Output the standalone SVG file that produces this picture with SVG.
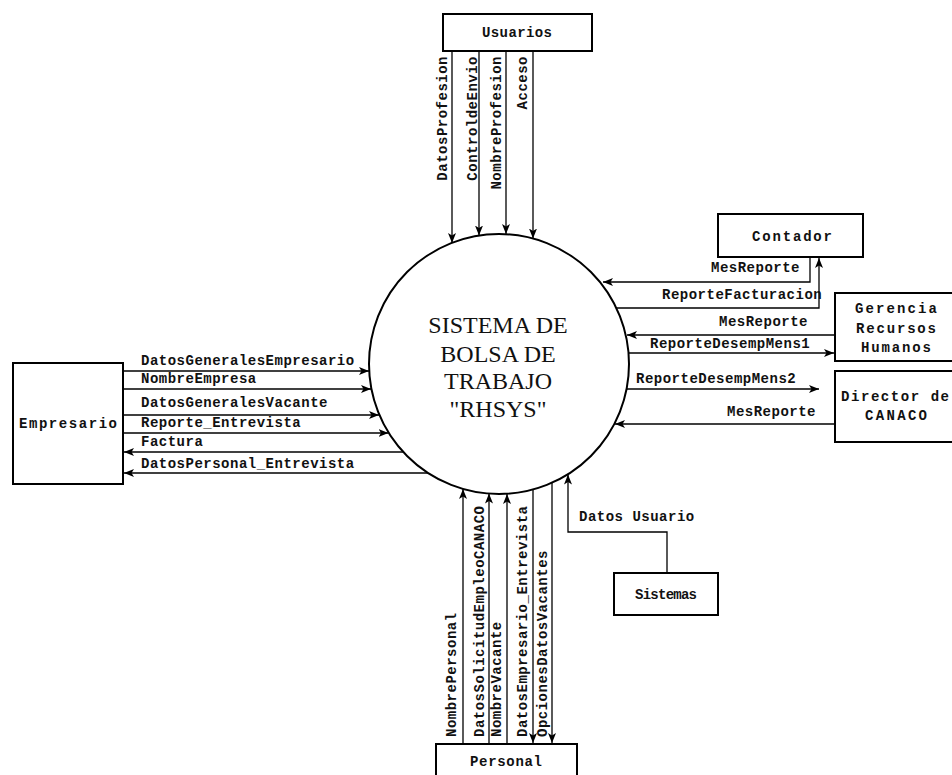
<svg xmlns="http://www.w3.org/2000/svg" width="952" height="775" viewBox="0 0 952 775">
  <style>
    .box { fill: #fff; stroke: #000; stroke-width: 2; }
    .proc { fill: #fff; stroke: #000; stroke-width: 2; }
    .flow { fill: none; stroke: #000; stroke-width: 1.3; }
    .arr { marker-end: url(#head); }
    .lbl { font-family: "Liberation Mono", "DejaVu Sans Mono", monospace; font-size: 14px; font-weight: bold; letter-spacing: 0.5px; fill: #111; }
    .name { font-family: "Liberation Mono", "DejaVu Sans Mono", monospace; font-size: 14px; font-weight: bold; fill: #111; }
    .title { font-family: "Liberation Serif", "Times New Roman", serif; font-size: 24px; fill: #111; text-anchor: middle; }
  </style>
  <defs>
    <marker id="head" viewBox="0 0 10 8" refX="10" refY="4" markerWidth="10" markerHeight="8" orient="auto" markerUnits="userSpaceOnUse">
      <path d="M0,0 L10,4 L0,8 L2.5,4 z" fill="#000"/>
    </marker>
  </defs>

  <rect width="952" height="775" fill="#fff"/>

  <!-- central process -->
  <g id="sistema">
    <circle class="proc" cx="499" cy="364" r="130"/>
    <text class="title" x="498" y="333">SISTEMA DE</text>
    <text class="title" x="498" y="362">BOLSA DE</text>
    <text class="title" x="498" y="389">TRABAJO</text>
    <text class="title" x="498" y="417">"RHSYS"</text>
  </g>

  <!-- external entities -->
  <g id="usuarios">
    <rect class="box" x="443" y="14" width="149" height="37"/>
    <text class="name" x="482" y="37" textLength="70" lengthAdjust="spacing">Usuarios</text>
  </g>
  <g id="contador">
    <rect class="box" x="718" y="214" width="145" height="43"/>
    <text class="name" x="752" y="241" textLength="80" lengthAdjust="spacing">Contador</text>
  </g>
  <g id="gerencia">
    <rect class="box" x="835" y="293" width="130" height="68"/>
    <text class="name" x="855" y="313" textLength="82" lengthAdjust="spacing">Gerencia</text>
    <text class="name" x="856" y="333" textLength="80" lengthAdjust="spacing">Recursos</text>
    <text class="name" x="861" y="352" textLength="70" lengthAdjust="spacing">Humanos</text>
  </g>
  <g id="director">
    <rect class="box" x="835" y="371" width="130" height="71"/>
    <text class="name" x="841" y="401" textLength="108" lengthAdjust="spacing">Director de</text>
    <text class="name" x="865" y="420" textLength="62" lengthAdjust="spacing">CANACO</text>
  </g>
  <g id="empresario">
    <rect class="box" x="13" y="363" width="110" height="121"/>
    <text class="name" x="19" y="428" textLength="98" lengthAdjust="spacing">Empresario</text>
  </g>
  <g id="sistemas">
    <rect class="box" x="614" y="573" width="104" height="42"/>
    <text class="name" x="635" y="599" textLength="62" lengthAdjust="spacing">Sistemas</text>
  </g>
  <g id="personal">
    <rect class="box" x="436" y="744" width="141" height="40"/>
    <text class="name" x="470" y="766" textLength="72" lengthAdjust="spacing">Personal</text>
  </g>

  <!-- data flows -->
  <g id="flows">
    <!-- Usuarios -> system -->
    <path class="flow arr" d="M452,51 V243"/>
    <path class="flow arr" d="M479,51 V235.5"/>
    <path class="flow arr" d="M506,51 V234"/>
    <path class="flow arr" d="M533,51 V238.5"/>
    <text class="lbl" transform="translate(447,56) rotate(-90)" text-anchor="end">DatosProfesion</text>
    <text class="lbl" transform="translate(477,56) rotate(-90)" text-anchor="end">ControldeEnvio</text>
    <text class="lbl" transform="translate(501,56) rotate(-90)" text-anchor="end">NombreProfesion</text>
    <text class="lbl" transform="translate(527,56) rotate(-90)" text-anchor="end">Acceso</text>

    <!-- Contador -->
    <path class="flow arr" d="M810,257 V282 H603"/>
    <path class="flow arr" d="M616,308 H819 V258"/>
    <text class="lbl" x="800" y="272" text-anchor="end">MesReporte</text>
    <text class="lbl" x="662" y="299">ReporteFacturacion</text>

    <!-- Gerencia Recursos Humanos -->
    <path class="flow arr" d="M835,335 H627"/>
    <path class="flow arr" d="M628,353 H834"/>
    <text class="lbl" x="808" y="326" text-anchor="end">MesReporte</text>
    <text class="lbl" x="650" y="348">ReporteDesempMens1</text>

    <!-- Director de CANACO -->
    <path class="flow arr" d="M627,389 H819"/>
    <path class="flow arr" d="M835,424 H615"/>
    <text class="lbl" x="636" y="383">ReporteDesempMens2</text>
    <text class="lbl" x="816" y="416" text-anchor="end">MesReporte</text>

    <!-- Empresario -->
    <path class="flow arr" d="M123,371 H369"/>
    <path class="flow arr" d="M123,389 H371"/>
    <path class="flow arr" d="M123,415 H379"/>
    <path class="flow arr" d="M123,433 H388.5"/>
    <path class="flow arr" d="M403,452 H124"/>
    <path class="flow arr" d="M428,473 H124"/>
    <text class="lbl" x="141" y="365">DatosGeneralesEmpresario</text>
    <text class="lbl" x="141" y="383">NombreEmpresa</text>
    <text class="lbl" x="141" y="407">DatosGeneralesVacante</text>
    <text class="lbl" x="141" y="427">Reporte_Entrevista</text>
    <text class="lbl" x="141" y="446">Factura</text>
    <text class="lbl" x="141" y="468">DatosPersonal_Entrevista</text>

    <!-- Personal -->
    <path class="flow arr" d="M463,744 V489"/>
    <path class="flow arr" d="M489,744 V493.5"/>
    <path class="flow arr" d="M507,744 V494"/>
    <path class="flow arr" d="M533,489.5 V743"/>
    <path class="flow arr" d="M552,483 V743"/>
    <text class="lbl" transform="translate(456,737) rotate(-90)">NombrePersonal</text>
    <text class="lbl" transform="translate(484,737) rotate(-90)">DatosSolicitudEmpleoCANACO</text>
    <text class="lbl" transform="translate(501,737) rotate(-90)">NombreVacante</text>
    <text class="lbl" transform="translate(527,737) rotate(-90)">DatosEmpresario_Entrevista</text>
    <text class="lbl" transform="translate(547,737) rotate(-90)">OpcionesDatosVacantes</text>

    <!-- Sistemas -->
    <path class="flow arr" d="M667,573 V532 H568 V474.5"/>
    <text class="lbl" x="579" y="521">Datos Usuario</text>
  </g>
</svg>
